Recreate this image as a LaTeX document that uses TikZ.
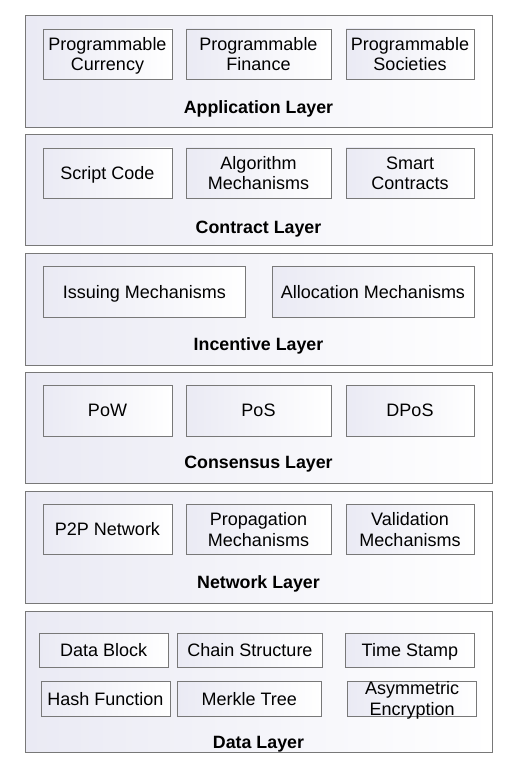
\documentclass[tikz,border=0pt]{standalone}
\usepackage{fontspec}
\setmainfont{Liberation Sans}
\definecolor{lav}{RGB}{234,234,244}
\definecolor{edge}{RGB}{120,120,120}
\newcommand\ms{\rule[-3.95pt]{0pt}{20.5pt}}
\tikzset{
  layerbox/.style={draw=edge, line width=1pt, left color=lav, right color=white, minimum width=467pt, inner sep=0pt},
  itembox/.style={draw=edge, line width=0.9pt, left color=lav, right color=white, inner sep=0pt, align=center, font=\fontsize{18}{20.5}\selectfont},
  itemtext/.style={inner sep=0pt, align=center, font=\fontsize{18}{20.5}\selectfont},
  layertitle/.style={inner sep=0pt, font=\fontsize{17.8}{20.5}\selectfont\bfseries}
}
\begin{document}
\begin{tikzpicture}[x=1pt,y=-1pt]
\useasboundingbox[fill=white] (0,0) rectangle (531,767);
% layers
\node[layerbox, minimum height=112pt] (app) at (258.5,72) {};
\node[layerbox, minimum height=110.7pt] (con) at (258.5,190.35) {};
\node[layerbox, minimum height=111.3pt] (inc) at (258.5,309.35) {};
\node[layerbox, minimum height=111pt] (cns) at (258.5,428.2) {};
\node[layerbox, minimum height=111.6pt] (net) at (258.5,547.5) {};
\node[layerbox, minimum height=141.4pt] (dat) at (258.5,682) {};
% application
\node[itembox, minimum width=129pt, minimum height=50pt] (pcur) at (107.5,54) {Programmable\ms\\Currency\ms};
\node[itembox, minimum width=145pt, minimum height=50pt] (pfin) at (258.5,54) {Programmable\ms\\Finance\ms};
\node[itembox, minimum width=128pt, minimum height=50pt] (psoc) at (410,54) {Programmable\ms\\Societies\ms};
\node[layertitle] (tapp) at (258.5,107) {Application Layer\ms};
% contract
\node[itembox, minimum width=129pt, minimum height=50pt] (scode) at (107.5,173) {Script Code\ms};
\node[itembox, minimum width=145pt, minimum height=50pt] (algo) at (258.5,173) {Algorithm\ms\\Mechanisms\ms};
\node[itembox, minimum width=128pt, minimum height=50pt] (smart) at (410,173) {Smart\ms\\Contracts\ms};
\node[layertitle] (tcon) at (258.5,227) {Contract Layer\ms};
% incentive
\node[itembox, minimum width=202.7pt, minimum height=50.6pt] (iss) at (144.3,292) {Issuing Mechanisms\ms};
\node[itembox, minimum width=202pt, minimum height=50.6pt] (alloc) at (373,292) {Allocation Mechanisms\ms};
\node[layertitle] (tinc) at (258.5,344) {Incentive Layer\ms};
% consensus
\node[itembox, minimum width=129pt, minimum height=51pt] (pow) at (107.5,410.5) {PoW\ms};
\node[itembox, minimum width=145pt, minimum height=51pt] (pos) at (258.5,410.5) {PoS\ms};
\node[itembox, minimum width=128pt, minimum height=51pt] (dpos) at (410,410.5) {DPoS\ms};
\node[layertitle] (tcns) at (258.5,462) {Consensus Layer\ms};
% network
\node[itembox, minimum width=129pt, minimum height=50.4pt] (p2p) at (107.5,529.5) {P2P Network\ms};
\node[itembox, minimum width=145pt, minimum height=50.4pt] (prop) at (258.5,529.5) {Propagation\ms\\Mechanisms\ms};
\node[itembox, minimum width=128pt, minimum height=50.4pt] (valid) at (410,529.5) {Validation\ms\\Mechanisms\ms};
\node[layertitle] (tnet) at (258.5,582) {Network Layer\ms};
% data
\node[itembox, minimum width=128.7pt, minimum height=34pt] (dblock) at (103.7,650.3) {Data Block\ms};
\node[itembox, minimum width=144.6pt, minimum height=34pt] (chain) at (250,650.3) {Chain Structure\ms};
\node[itembox, minimum width=128.3pt, minimum height=34pt] (tstamp) at (409.9,650.3) {Time Stamp\ms};
\node[itembox, minimum width=129pt, minimum height=35pt] (hash) at (105.5,698.8) {Hash Function\ms};
\node[itembox, minimum width=144.7pt, minimum height=35pt] (merkle) at (249.3,698.8) {Merkle Tree\ms};
\node[itembox, minimum width=129pt, minimum height=35pt] (asym) at (412.2,698.8) {};
\node[itemtext] (asymt) at (asym.center) {Asymmetric\ms\\Encryption\ms};
\node[layertitle] (tdat) at (258.5,741.7) {Data Layer\ms};
\end{tikzpicture}
\end{document}
